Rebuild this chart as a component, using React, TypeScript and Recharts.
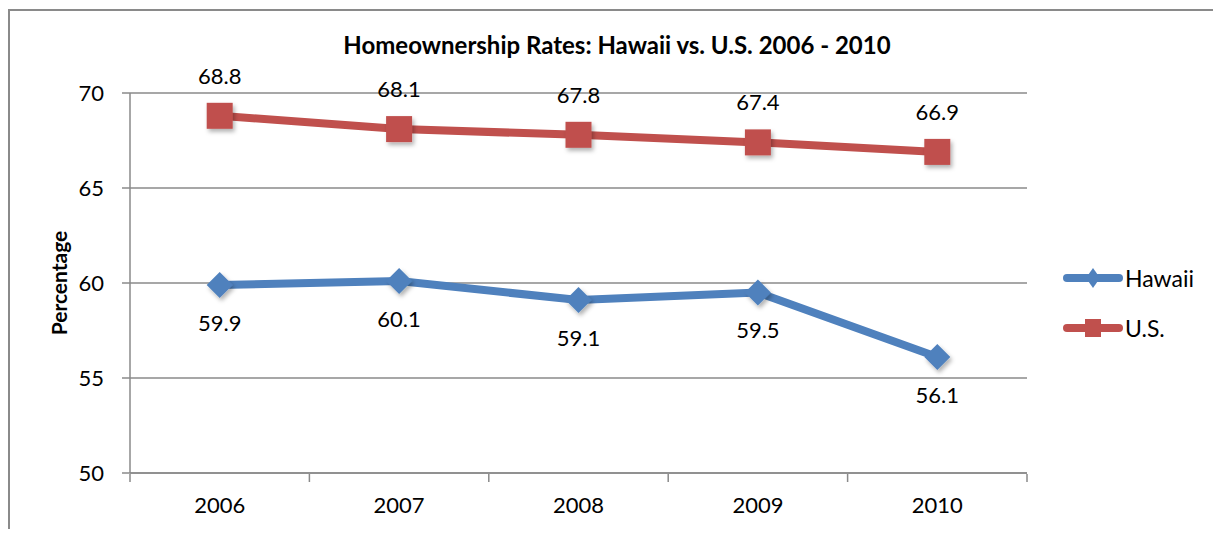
import React from 'react';
import {
  LineChart,
  Line,
  XAxis,
  YAxis,
  CartesianGrid,
  Legend,
  LabelList,
  Customized,
} from 'recharts';

const years = ['2006', '2007', '2008', '2009', '2010'];
const hawaii = [59.9, 60.1, 59.1, 59.5, 56.1];
const us = [68.8, 68.1, 67.8, 67.4, 66.9];
const yTicks = [50, 55, 60, 65, 70];
const boundaryTicks = [0, 1, 2, 3, 4, 5];

const data = years.map((year, i) => ({ year, hawaii: hawaii[i], us: us[i] }));

const FONT = 'Lato, "Open Sans", sans-serif';
const BLUE = '#4F81BD';
const RED = '#C0504D';
const GRID = '#8a8a8a';

// position of each category on the boundary axis (band centre)
const bandCentre = (d: any) => years.indexOf(d.year) + 0.5;

const SquareDot = (props: any) => {
  const { cx, cy } = props;
  if (cx == null || cy == null) return null;
  return <rect x={cx - 13} y={cy - 13} width={26} height={26} fill={RED} filter="url(#dotShadow)" />;
};

const DiamondDot = (props: any) => {
  const { cx, cy } = props;
  if (cx == null || cy == null) return null;
  const r = 13;
  return (
    <polygon
      points={`${cx},${cy - r} ${cx + r},${cy} ${cx},${cy + r} ${cx - r},${cy}`}
      fill={BLUE}
      filter="url(#dotShadow)"
    />
  );
};

const EmptyTick = () => <g />;

const ShadowDefs = () => (
  <defs>
    <filter id="dotShadow" x="-50%" y="-50%" width="200%" height="200%">
      <feDropShadow dx="2" dy="3" stdDeviation="2" floodColor="#000" floodOpacity="0.3" />
    </filter>
  </defs>
);

const LegendContent = (props: any) => {
  const items = props.payload || [];
  return (
    <div style={{ fontFamily: FONT, fontSize: 23, color: '#000' }}>
      {items.map((it: any) => {
        const c = it.color;
        const isUS = it.dataKey === 'us';
        return (
          <div key={it.dataKey} style={{ display: 'flex', alignItems: 'center', height: 26, marginBottom: 24 }}>
            <svg width={60} height={26}>
              <line x1={4} y1={13} x2={56} y2={13} stroke={c} strokeWidth={8} strokeLinecap="round" />
              {isUS ? (
                <rect x={22} y={4} width={16} height={18} fill={c} />
              ) : (
                <polygon points="30,3 37,13 30,23 23,13" fill={c} />
              )}
            </svg>
            <span style={{ marginLeft: 2 }}>{it.value}</span>
          </div>
        );
      })}
    </div>
  );
};

const YLabel = (props: any) => {
  const vb = props.viewBox || { x: 0, y: 0, height: 0 };
  const x = vb.x + 50;
  const y = vb.y + vb.height / 2;
  return (
    <text
      x={x}
      y={y}
      transform={`rotate(-90 ${x} ${y})`}
      textAnchor="middle"
      dominantBaseline="central"
      style={{ fontFamily: FONT, fontSize: 21, fontWeight: 700, fill: '#000' }}
    >
      Percentage
    </text>
  );
};

export default function App() {
  return (
    <div style={{ position: 'relative', width: 1205, height: 521, fontFamily: FONT, overflow: 'hidden' }}>
      <div
        style={{
          position: 'absolute',
          left: 0,
          top: 1,
          width: 1400,
          height: 700,
          borderLeft: `2px solid ${GRID}`,
          borderTop: `2px solid ${GRID}`,
          boxSizing: 'border-box',
        }}
      />
      <div
        style={{
          position: 'absolute',
          left: 0,
          top: 22,
          width: 1218,
          textAlign: 'center',
          fontSize: 24,
          fontWeight: 700,
          color: '#000',
        }}
      >
        Homeownership Rates: Hawaii vs. U.S. 2006 - 2010
      </div>
      <LineChart
        width={1205}
        height={521}
        data={data}
        margin={{ top: 85, right: 36, bottom: 54, left: 0 }}
        style={{ position: 'absolute', left: 0, top: 0 }}
      >
        <Customized component={ShadowDefs} />
        <CartesianGrid vertical={false} stroke={GRID} strokeWidth={1.5} />
        <XAxis
          dataKey="year"
          height={1}
          padding={{ left: 89.7, right: 89.7 }}
          axisLine={{ stroke: GRID, strokeWidth: 1.5 }}
          tickLine={false}
          tickSize={0}
          tickMargin={24}
          tick={{ fill: '#000', fontSize: 22, fontFamily: FONT }}
        />
        <XAxis
          xAxisId="bounds"
          type="number"
          dataKey={bandCentre}
          domain={[0, 5]}
          ticks={boundaryTicks}
          allowDataOverflow
          height={1}
          axisLine={false}
          tick={EmptyTick}
          tickLine={{ stroke: GRID, strokeWidth: 1.5 }}
          tickSize={8}
        />
        <YAxis
          domain={[50, 70]}
          ticks={yTicks}
          width={122}
          axisLine={{ stroke: GRID, strokeWidth: 1.5 }}
          tickLine={{ stroke: GRID, strokeWidth: 1.5 }}
          tickSize={8}
          tickMargin={18}
          tick={{ fill: '#000', fontSize: 22, fontFamily: FONT }}
          label={{ content: YLabel }}
        />
        <Legend
          layout="vertical"
          align="right"
          verticalAlign="middle"
          content={LegendContent}
          wrapperStyle={{ position: 'absolute', left: 1055, top: 257, width: 150 }}
        />
        <Line
          dataKey="hawaii"
          name="Hawaii"
          stroke={BLUE}
          strokeWidth={8}
          dot={DiamondDot}
          activeDot={false}
          isAnimationActive={false}
        >
          <LabelList dataKey="hawaii" position="bottom" offset={30} fill="#000" fontSize={22} fontFamily={FONT} />
        </Line>
        <Line
          dataKey="us"
          name="U.S."
          stroke={RED}
          strokeWidth={8}
          dot={SquareDot}
          activeDot={false}
          isAnimationActive={false}
        >
          <LabelList dataKey="us" position="top" offset={32} fill="#000" fontSize={22} fontFamily={FONT} />
        </Line>
      </LineChart>
    </div>
  );
}
